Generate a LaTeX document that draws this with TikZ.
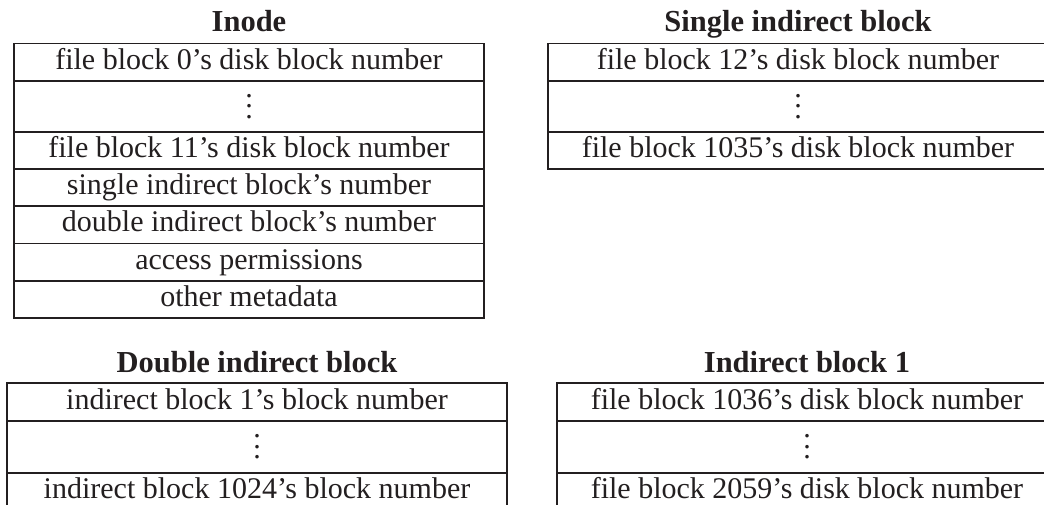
\documentclass[tikz,border=0pt]{standalone}
\usepackage{fontspec}
\setmainfont{Liberation Serif}
\definecolor{ink}{RGB}{35,31,32}
\newcommand\mydots{\vbox{\baselineskip=10.5pt\lineskiplimit=0pt\hbox{.}\hbox{.}\hbox{.}}}
\tikzset{
  box/.style={draw=ink, line width=1.8pt, inner xsep=0pt, inner ysep=0pt,
    text=ink, font=\fontsize{30}{36}\selectfont, align=center},
  cell/.style={box, text height=14pt, text depth=0pt},
  dotcell/.style={box},
  title/.style={text=ink, font=\fontsize{30.5}{36}\selectfont\bfseries, inner sep=0pt, anchor=base},
}
\begin{document}
\begin{tikzpicture}[x=1pt,y=-1pt]
\useasboundingbox (0,0) rectangle (1044,505);
% Inode
\node[title] (inodeT) at (249,32) {Inode};
\node[cell, minimum width=470pt, minimum height=37.2pt] (i1) at (249,62.1) {file block 0's disk block number};
\node[dotcell, minimum width=470pt, minimum height=51.2pt] (i2) at (249,106.3) {\mydots};
\node[cell, minimum width=470pt, minimum height=37.2pt] (i3) at (249,150.5) {file block 11's disk block number};
\node[cell, minimum width=470pt, minimum height=37.2pt] (i4) at (249,187.7) {single indirect block's number};
\node[cell, minimum width=470pt, minimum height=37.2pt] (i5) at (249,224.9) {double indirect block's number};
\node[cell, minimum width=470pt, minimum height=37.2pt] (i6) at (249,262.1) {access permissions};
\node[cell, minimum width=470pt, minimum height=37.2pt] (i7) at (249,299.3) {other metadata};
% Single indirect block
\node[title] (sT) at (798,32) {Single indirect block};
\node[cell, minimum width=500pt, minimum height=37.2pt] (s1) at (798,62.1) {file block 12's disk block number};
\node[dotcell, minimum width=500pt, minimum height=51.2pt] (s2) at (798,106.3) {\mydots};
\node[cell, minimum width=500pt, minimum height=37.2pt] (s3) at (798,150.5) {file block 1035's disk block number};
% Double indirect block
\node[title] (dT) at (257,372) {Double indirect block};
\node[cell, minimum width=500pt, minimum height=38pt] (d1) at (257,402) {indirect block 1's block number};
\node[dotcell, minimum width=500pt, minimum height=52pt] (d2) at (257,447) {\mydots};
\node[cell, minimum width=500pt, minimum height=37pt] (d3) at (257,491.5) {indirect block 1024's block number};
% Indirect block 1
\node[title] (bT) at (807,372) {Indirect block 1};
\node[cell, minimum width=500pt, minimum height=38pt] (b1) at (807,402) {file block 1036's disk block number};
\node[dotcell, minimum width=500pt, minimum height=52pt] (b2) at (807,447) {\mydots};
\node[cell, minimum width=500pt, minimum height=37pt] (b3) at (807,491.5) {file block 2059's disk block number};
\end{tikzpicture}
\end{document}
